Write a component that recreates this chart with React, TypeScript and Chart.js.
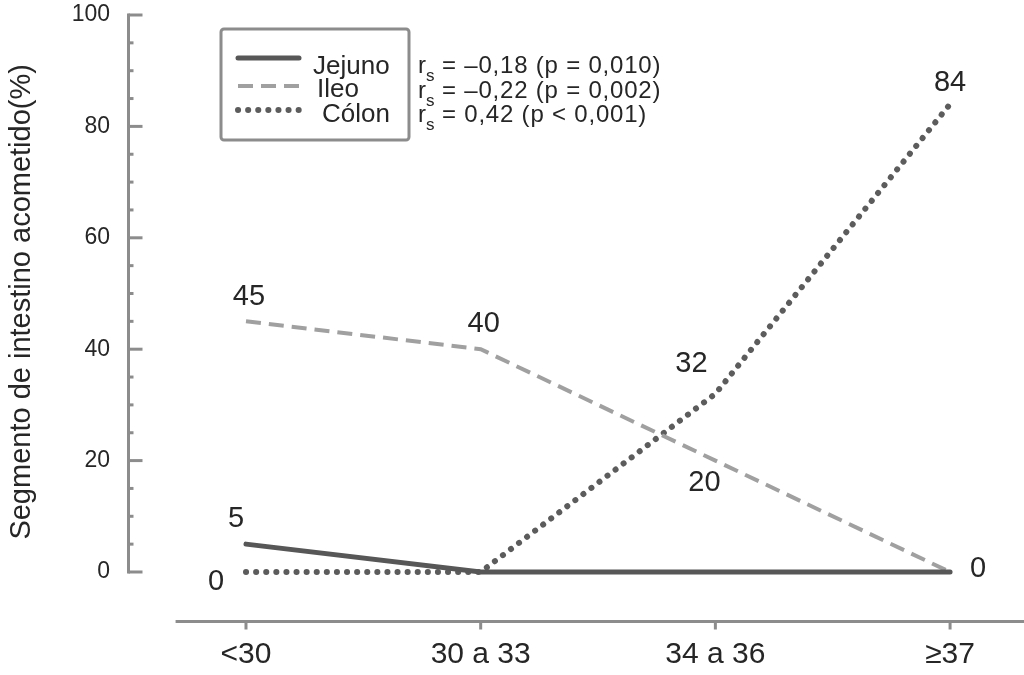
import React, { useEffect, useRef } from "react";
import { Chart, registerables } from "chart.js";

Chart.register(...registerables);

// ---------- data ----------
const categories = ["<30", "30 a 33", "34 a 36", "≥37"];
const jejuno = [5, 0, 0, 0];
const ileo = [45, 40, 20, 0];
const colon = [0, 0, 32, 84];
const seriesNames = ["Jejuno", "Ileo", "Cólon"];
const rsValues = ["–0,18", "–0,22", "0,42"];
const pValues = ["p = 0,010", "p = 0,002", "p < 0,001"];
const yMajorTicks = [0, 20, 40, 60, 80, 100];
const yMinorTicks = [5, 10, 15, 25, 30, 35, 45, 50, 55, 65, 70, 75, 85, 90, 95];
const yTitle = "Segmento de intestino acometido(%)";

// ---------- style ----------
const FONT = '"Liberation Sans", Arial, Helvetica, sans-serif';
const AXIS = "#8c8c8c";
const TEXT = "#262626";

// value labels: [datasetIndex, pointIndex, dx, dy]
const valueLabelSpots: [number, number, number, number][] = [
  [1, 0, 3, -24],
  [1, 1, 3, -25],
  [1, 2, -11, 22],
  [0, 0, -10, -25],
  [2, 0, -30, 10],
  [2, 2, -24, -30],
  [2, 3, 0, -21],
  [0, 3, 28, -3],
];

const toPts = (arr: number[]) => arr.map((v, i) => ({ x: i, y: v }));

const decorPlugin = {
  id: "decor",
  beforeDatasetsDraw(chart: any) {
    const { ctx, chartArea: ca, scales } = chart;
    const x = scales.x;
    const y = scales.y;
    ctx.save();
    ctx.strokeStyle = AXIS;
    ctx.lineWidth = 3;
    ctx.lineCap = "square";
    const ax = ca.left + 1.5;
    const yTop = y.getPixelForValue(100);
    const yBot = y.getPixelForValue(0);
    ctx.beginPath();
    ctx.moveTo(ax, yTop);
    ctx.lineTo(ax, yBot);
    ctx.stroke();
    ctx.lineCap = "butt";
    yMajorTicks.forEach((v) => {
      const py = y.getPixelForValue(v);
      ctx.beginPath();
      ctx.moveTo(ax, py);
      ctx.lineTo(ax + 14, py);
      ctx.stroke();
    });
    yMinorTicks.forEach((v) => {
      const py = y.getPixelForValue(v);
      ctx.beginPath();
      ctx.moveTo(ax, py);
      ctx.lineTo(ax + 5, py);
      ctx.stroke();
    });
    // x axis
    const by = ca.bottom + 1.5;
    ctx.beginPath();
    ctx.moveTo(x.getPixelForValue(-0.3), by);
    ctx.lineTo(ca.right, by);
    ctx.stroke();
    categories.forEach((_, i) => {
      const px = x.getPixelForValue(i);
      ctx.beginPath();
      ctx.moveTo(px, by);
      ctx.lineTo(px, by + 8);
      ctx.stroke();
    });
    ctx.restore();
  },
  afterDatasetsDraw(chart: any) {
    const { ctx, scales } = chart;
    const y = scales.y;
    ctx.save();
    // value labels
    ctx.fillStyle = TEXT;
    ctx.font = `29px ${FONT}`;
    ctx.textAlign = "center";
    ctx.textBaseline = "middle";
    valueLabelSpots.forEach(([d, i, dx, dy]) => {
      const pt = chart.getDatasetMeta(d).data[i];
      const val = chart.data.datasets[d].data[i].y;
      ctx.fillText(String(val), pt.x + dx, pt.y + dy);
    });

    // y title
    ctx.save();
    ctx.translate(22, y.getPixelForValue(48.5));
    ctx.rotate(-Math.PI / 2);
    ctx.font = `29px ${FONT}`;
    ctx.fillText(yTitle, 0, 0);
    ctx.restore();

    // legend box
    ctx.strokeStyle = AXIS;
    ctx.lineWidth = 3;
    ctx.beginPath();
    (ctx as any).roundRect ? (ctx as any).roundRect(221, 29, 188, 111, 3) : ctx.rect(221, 29, 188, 111);
    ctx.stroke();

    const rowsLine = [58, 86, 110];
    const rowsText = [74, 97, 122];
    const labelX = [313, 317, 322];
    chart.data.datasets.forEach((ds: any, k: number) => {
      ctx.save();
      ctx.strokeStyle = ds.borderColor;
      ctx.lineWidth = ds.borderWidth;
      ctx.lineCap = ds.borderCapStyle || "butt";
      ctx.setLineDash(ds.borderDash || []);
      ctx.beginPath();
      ctx.moveTo(238, rowsLine[k]);
      ctx.lineTo(299, rowsLine[k]);
      ctx.stroke();
      ctx.restore();
      ctx.fillStyle = TEXT;
      ctx.textAlign = "left";
      ctx.textBaseline = "alphabetic";
      ctx.font = `26px ${FONT}`;
      ctx.fillText(ds.label, labelX[k], rowsText[k]);
    });

    // statistics
    const statBase = [73, 98, 122];
    seriesNames.forEach((_, k) => {
      const b = statBase[k];
      let cx = 418;
      ctx.font = `24px ${FONT}`;
      ctx.textAlign = "left";
      ctx.textBaseline = "alphabetic";
      ctx.fillText("r", cx, b);
      cx += ctx.measureText("r").width;
      ctx.font = `17px ${FONT}`;
      ctx.fillText("s", cx, b + 8);
      cx += ctx.measureText("s").width;
      ctx.font = `24px ${FONT}`;
      (ctx as any).letterSpacing = "0.8px";
      ctx.fillText(` = ${rsValues[k]} (${pValues[k]})`, cx, b);
      (ctx as any).letterSpacing = "0px";
    });
    ctx.restore();
  },
};

export default function App() {
  const ref = useRef<HTMLCanvasElement>(null);
  useEffect(() => {
    Chart.defaults.font.family = FONT;
    Chart.defaults.color = TEXT;
    const chart = new Chart(ref.current as HTMLCanvasElement, {
      type: "line",
      data: {
        datasets: [
          {
            label: seriesNames[0],
            data: toPts(jejuno),
            borderColor: "#575757",
            borderWidth: 5,
            pointRadius: 0,
            tension: 0,
            borderCapStyle: "round",
          },
          {
            label: seriesNames[1],
            data: toPts(ileo),
            borderColor: "#a0a0a0",
            borderWidth: 4,
            borderDash: [15, 8],
            pointRadius: 0,
            tension: 0,
          },
          {
            label: seriesNames[2],
            data: toPts(colon),
            borderColor: "#5c5c5c",
            borderWidth: 6,
            borderDash: [0.1, 10],
            borderCapStyle: "round",
            pointRadius: 0,
            tension: 0,
          },
        ] as any,
      },
      options: {
        responsive: false,
        animation: false,
        devicePixelRatio: 1,
        layout: { padding: { top: 15, left: 0, right: 0, bottom: 0 } },
        plugins: {
          legend: { display: false },
          tooltip: { enabled: false },
        },
        scales: {
          x: {
            type: "linear",
            min: -0.507,
            max: 3.315,
            grid: { display: false },
            border: { display: false },
            afterBuildTicks: (s: any) => {
              s.ticks = categories.map((_, i) => ({ value: i }));
            },
            afterFit: (s: any) => {
              s.height = 55;
              s.paddingLeft = 0;
              s.paddingRight = 0;
            },
            ticks: {
              autoSkip: false,
              maxRotation: 0,
              padding: 9,
              color: TEXT,
              font: { size: 30, family: FONT },
              callback: (v: any) => categories[v as number] ?? "",
            },
          },
          y: {
            type: "linear",
            min: -8.62,
            max: 100,
            grid: { display: false },
            border: { display: false },
            afterBuildTicks: (s: any) => {
              s.ticks = yMajorTicks.map((v) => ({ value: v }));
            },
            afterFit: (s: any) => {
              s.width = 127;
              s.paddingTop = 0;
              s.paddingBottom = 0;
            },
            ticks: {
              padding: 9,
              color: TEXT,
              font: { size: 23, family: FONT },
            },
          },
        },
      } as any,
      plugins: [decorPlugin],
    });
    return () => chart.destroy();
  }, []);
  return (
    <div style={{ position: "absolute", left: 0, top: 0, width: 1024, height: 675, background: "#fff" }}>
      <canvas ref={ref} width={1024} height={675} style={{ display: "block" }} />
    </div>
  );
}
